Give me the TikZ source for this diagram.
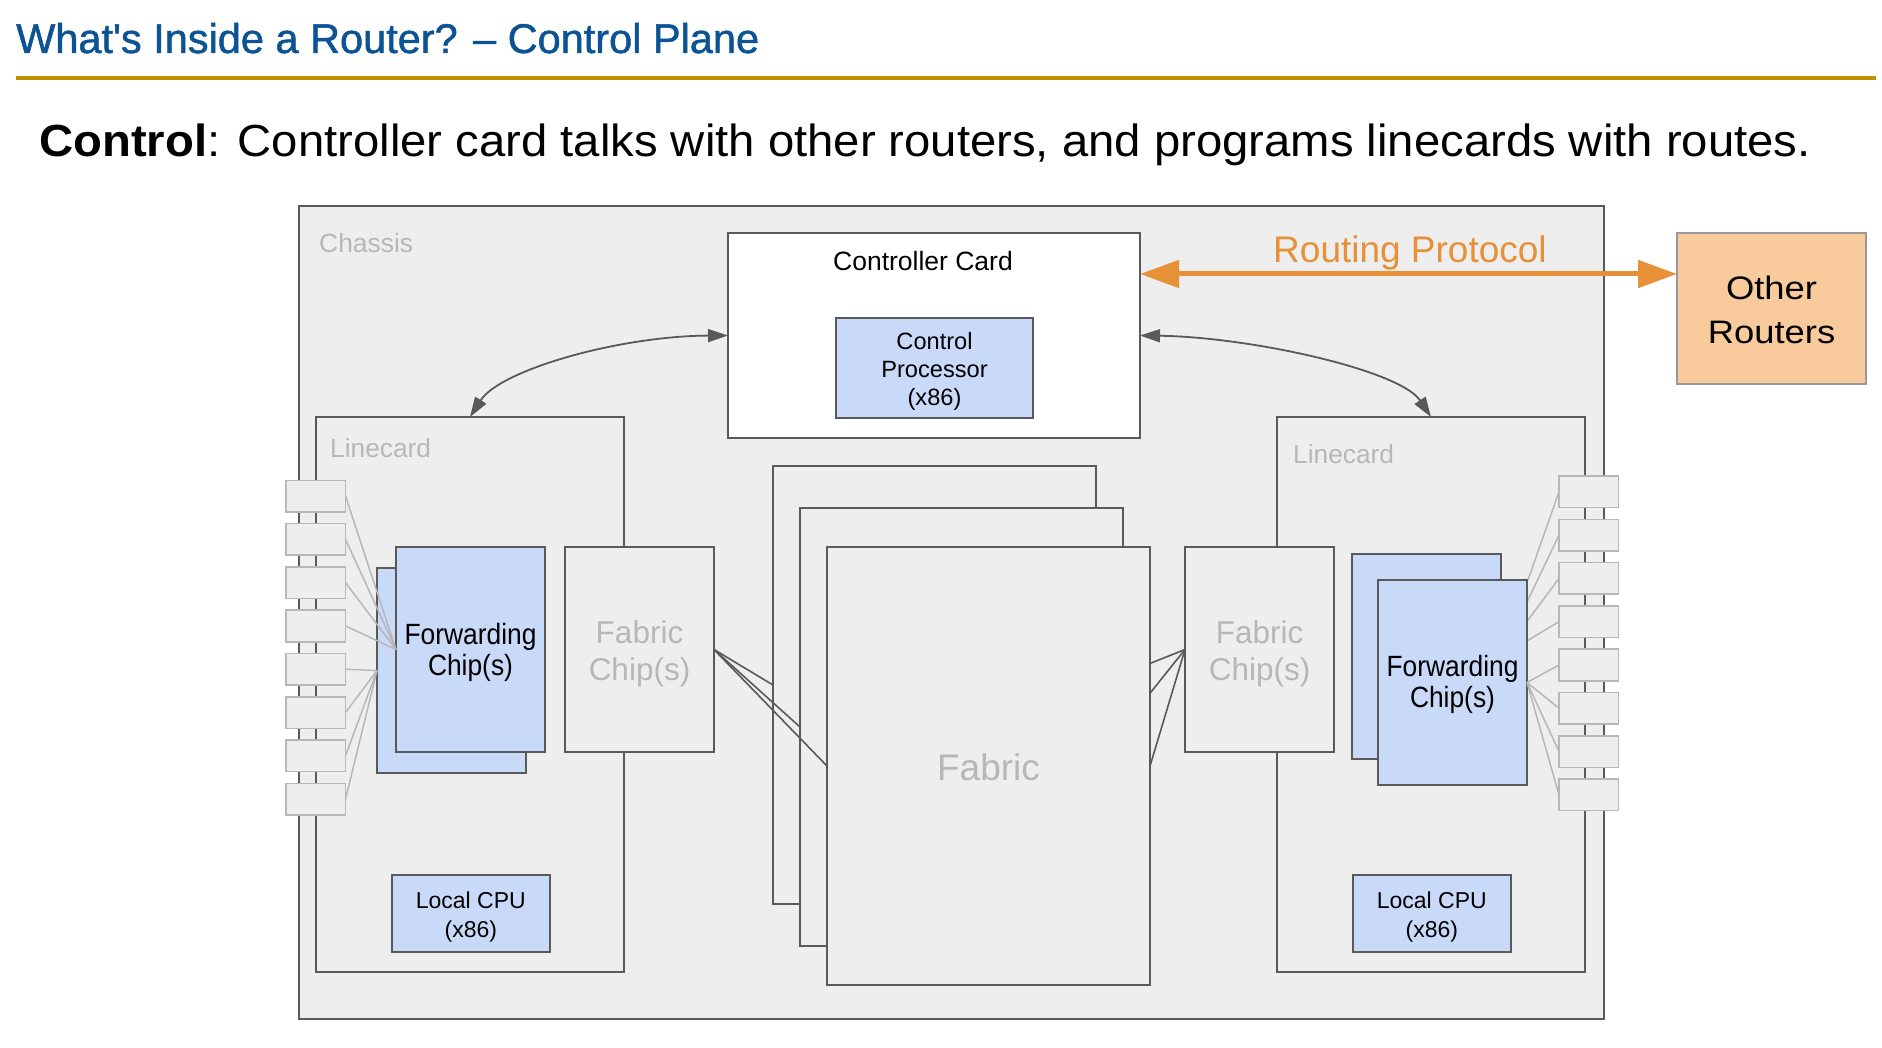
\documentclass[tikz,border=0pt]{standalone}
\usepackage{fontspec}
\setmainfont{Liberation Sans}[Ligatures=TeXOff]
\newfontfamily\titlefont{Liberation Sans}[Ligatures=TeXOff, FakeBold=1.2]
\newfontfamily\subfont{Liberation Sans}[Ligatures=TeXOff, FakeStretch=1.05]
\newfontfamily\condfont{Liberation Sans}[Ligatures=TeXOff, FakeStretch=0.9]
\newfontfamily\widefont{Liberation Sans}[Ligatures=TeXOff, FakeStretch=1.12]
\usetikzlibrary{arrows.meta}
\definecolor{dk}{HTML}{595959}
\definecolor{chbg}{HTML}{EEEEEE}
\definecolor{lb}{HTML}{C9DAF8}
\definecolor{gtext}{HTML}{B7B7B7}
\definecolor{titleblue}{HTML}{0B5394}
\definecolor{gold}{HTML}{BF9000}
\definecolor{orng}{HTML}{E69138}
\definecolor{peach}{HTML}{F9CB9C}
\tikzset{
  box/.style={draw=dk, line width=2pt, inner sep=0pt, outer sep=0pt, anchor=north west, align=center},
  txt/.style={inner sep=0pt, outer sep=0pt, align=center},
  portbox/.style={draw=gtext, line width=1.6pt, fill=chbg, inner sep=0pt, outer sep=0pt, anchor=north west, minimum width=59.5pt, minimum height=31.5pt},
  portline/.style={draw=gtext, line width=1.5pt},
  fabline/.style={draw=dk, line width=1.6pt},
  ctlarrow/.style={draw=dk, line width=1.8pt, {Triangle[length=20pt,width=13pt]}-{Triangle[length=20pt,width=13pt]}},
  graylbl/.style={text=gtext, inner sep=0pt, anchor=base west},
}
\begin{document}
\begin{tikzpicture}[x=1pt,y=-1pt]
\useasboundingbox (0,0) rectangle (1882,1048);
% title
\node[anchor=base west, inner sep=0pt, text=titleblue, font=\titlefont\fontsize{41.5}{50}\selectfont] (title) at (16,53) {What's Inside a Router? – Control Plane};
\coordinate (ruleL) at (16,78);
\coordinate (ruleR) at (1876,78);
\draw[gold, line width=4pt] (ruleL) -- (ruleR);
\node[anchor=base west, inner sep=0pt, font=\subfont\fontsize{45}{50}\selectfont] (subtitle) at (39,157) {\textbf{Control}: Controller card talks with other routers, and programs linecards with routes.};
% chassis
\node[box, fill=chbg, minimum width=1305pt, minimum height=813pt] (chassis) at (299,206) {};
\node[graylbl, font=\fontsize{26.4}{30}\selectfont] (chaslbl) at (319,253) {Chassis};
% controller card
\node[box, fill=white, minimum width=412pt, minimum height=205pt] (ctrl) at (728,233) {};
\node[anchor=base, inner sep=0pt, font=\fontsize{26.5}{30}\selectfont] (ctrltxt) at (923,271) {Controller Card};
\node[box, fill=lb, minimum width=197pt, minimum height=100pt] (cpu) at (836,318) {};
\node[txt, font=\fontsize{23.6}{28}\selectfont] (cputxt) at ([yshift=-3.5pt]cpu.center) {Control\\Processor\\(x86)};
% other routers
\node[box, draw=gray!80, fill=peach, minimum width=189pt, minimum height=151pt] (other) at (1677,233) {};
\node[txt, font=\widefont\fontsize{32.5}{44}\selectfont] (othertxt) at ([yshift=-1pt]other.center) {Other\\Routers};
\draw[orng, line width=5pt, {Triangle[length=39pt,width=27pt]}-{Triangle[length=39pt,width=27pt]}] ([yshift=-41pt]ctrl.north east) -- ([yshift=-41pt]other.north west);
\node[anchor=base, inner sep=0pt, text=orng, font=\fontsize{37}{40}\selectfont] (routing) at (1410,263) {Routing Protocol};
% linecards
\node[box, fill=chbg, minimum width=308pt, minimum height=555pt] (lcL) at (316,417) {};
\node[graylbl, font=\fontsize{26.3}{32}\selectfont] (lcLlbl) at (330,457) {Linecard};
\node[box, fill=chbg, minimum width=308pt, minimum height=555pt] (lcR) at (1277,417) {};
\node[graylbl, font=\fontsize{26.3}{32}\selectfont] (lcRlbl) at (1293,463) {Linecard};
% local CPUs
\node[box, fill=lb, minimum width=157.6pt, minimum height=77pt] (cpuL) at (392,875) {};
\node[txt, font=\fontsize{23}{29}\selectfont] (cpuLtxt) at ([yshift=-3.5pt]cpuL.center) {Local CPU\\(x86)};
\node[box, fill=lb, minimum width=157.6pt, minimum height=77pt] (cpuR) at (1353,875) {};
\node[txt, font=\fontsize{23}{29}\selectfont] (cpuRtxt) at ([yshift=-3.5pt]cpuR.center) {Local CPU\\(x86)};
% fabric chips
\node[box, fill=chbg, minimum width=149pt, minimum height=205pt] (fabL) at (565,547) {};
\node[txt, text=gtext, font=\fontsize{31.5}{37}\selectfont] (fabLtxt) at ([yshift=-4pt]fabL.center) {Fabric\\Chip(s)};
\node[box, fill=chbg, minimum width=149pt, minimum height=205pt] (fabR) at (1185,547) {};
\node[txt, text=gtext, font=\fontsize{31.5}{37}\selectfont] (fabRtxt) at ([yshift=-4pt]fabR.center) {Fabric\\Chip(s)};
% forwarding chips
\node[box, fill=lb, minimum width=148.6pt, minimum height=205pt] (fwdLb) at (377,568) {};
\node[box, fill=lb, minimum width=149pt, minimum height=205pt] (fwdL) at (396,547) {};
\node[txt, font=\condfont\fontsize{29.3}{30.5}\selectfont] (fwdLtxt) at ([yshift=-3pt]fwdL.center) {Forwarding\\Chip(s)};
\node[box, fill=lb, minimum width=149pt, minimum height=205pt] (fwdRb) at (1352,554) {};
% fabric cards
\node[box, fill=chbg, minimum width=323pt, minimum height=438pt] (fab1) at (773,466) {};
\node[box, fill=chbg, minimum width=323pt, minimum height=438pt] (fab2) at (800,508) {};
\draw[fabline] (fabL.east) -- (fab1.west);
\draw[fabline] (fabL.east) -- (fab2.west);
\draw[fabline] (fabR.west) -- (fab1.east);
\draw[fabline] (fabR.west) -- (fab2.east);
\node[box, fill=chbg, minimum width=323pt, minimum height=438pt] (fab3) at (827,547) {};
\node[txt, text=gtext, font=\fontsize{37}{40}\selectfont] (fab3txt) at ([yshift=-1pt]fab3.center) {Fabric};
\draw[fabline] (fabL.east) -- (fab3.west);
\draw[fabline] (fabR.west) -- (fab3.east);
% left ports
\foreach \i in {0,...,7} {
  \node[portbox] (pL\i) at (286,{480.3+43.3*\i}) {};
}
\foreach \i in {0,...,3} { \draw[portline] (pL\i.east) -- (fwdL.west); }
\foreach \i in {4,...,7} { \draw[portline] (pL\i.east) -- (fwdLb.west); }
% right ports
\foreach \i in {0,...,7} {
  \node[portbox] (pR\i) at (1559,{476+43.3*\i}) {};
}
\foreach \i in {0,...,3} { \draw[portline] (pR\i.west) -- (fwdRb.east); }
\node[box, fill=lb, minimum width=149pt, minimum height=205pt] (fwdR) at (1378,580) {};
\node[txt, font=\condfont\fontsize{29.3}{31}\selectfont] (fwdRtxt) at ([yshift=-2pt]fwdR.center) {Forwarding\\Chip(s)};
\foreach \i in {4,...,7} { \draw[portline] (pR\i.west) -- (fwdR.east); }
% control arrows
\draw[ctlarrow] (ctrl.west) .. controls (619,336) and (500,370) .. (lcL.north);
\draw[ctlarrow] (ctrl.east) .. controls (1250,337) and (1400,370) .. (lcR.north);
\end{tikzpicture}
\end{document}
